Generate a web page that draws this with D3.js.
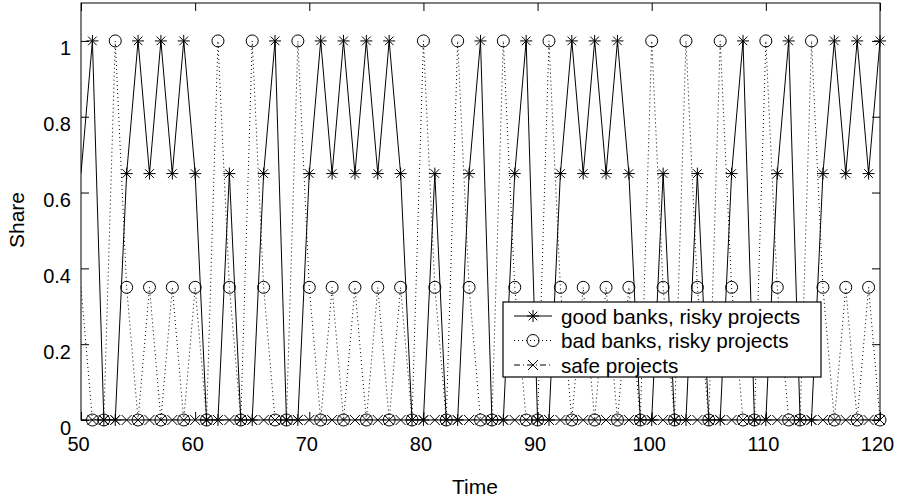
<!DOCTYPE html>
<html>
<head>
<meta charset="utf-8">
<script src="https://cdn.jsdelivr.net/npm/d3@7"></script>
<style>
  body { margin: 0; background: #fff; }
  svg { display: block; font-family: "Liberation Sans", Arial, Helvetica, sans-serif; }
</style>
</head>
<body>
<svg id="chart" width="898" height="503"></svg>
<script>
// ---- data ----
const times = d3.range(50, 121);
const goodRisky = [
  0.65, 1, 0, 0, 0.65, 1, 0.65, 1, 0.65, 1,
  0.65, 0, 0, 0.65, 0, 0, 0.65, 1, 0, 0,
  0.65, 1, 0.65, 1, 0.65, 1, 0.65, 1, 0.65, 0,
  0, 0.65, 0, 0, 0.65, 1, 0, 0, 0.65, 1,
  0, 0, 0.65, 1, 0.65, 1, 0.65, 1, 0.65, 0,
  0, 0.65, 0, 0, 0.65, 0, 0, 0.65, 1, 0,
  0, 0.65, 1, 0, 0, 0.65, 1, 0.65, 1, 0.65, 1
];
const badRisky = [
  0.35, 0, 0, 1, 0.35, 0, 0.35, 0, 0.35, 0,
  0.35, 0, 1, 0.35, 0, 1, 0.35, 0, 0, 1,
  0.35, 0, 0.35, 0, 0.35, 0, 0.35, 0, 0.35, 0,
  1, 0.35, 0, 1, 0.35, 0, 0, 1, 0.35, 0,
  0, 1, 0.35, 0, 0.35, 0, 0.35, 0, 0.35, 0,
  1, 0.35, 0, 1, 0.35, 0, 1, 0.35, 0, 0,
  1, 0.35, 0, 0, 1, 0.35, 0, 0.35, 0, 0.35, 0
];
const safeProj = times.map(() => 0);
const xTicks = [50, 60, 70, 80, 90, 100, 110, 120];
const yTicks = [0, 0.2, 0.4, 0.6, 0.8, 1];
const seriesNames = ["good banks, risky projects", "bad banks, risky projects", "safe projects"];

// ---- layout ----
const L = 81, R = 880, T = 3, B = 420;
const svg = d3.select("#chart");
const x = d3.scaleLinear().domain([50, 120]).range([L, R]);
const y = d3.scaleLinear().domain([0, 1.1]).range([B, T]);

svg.append("defs").append("clipPath").attr("id", "clip")
  .append("rect").attr("x", L).attr("y", T).attr("width", R - L).attr("height", B - T);

const series = [
  { name: seriesNames[0], values: goodRisky, dash: null, marker: "star" },
  { name: seriesNames[1], values: badRisky, dash: "1,3", marker: "circle" },
  { name: seriesNames[2], values: safeProj, dash: "6,3,1,3", marker: "x" }
];

function drawMarker(g, type, cx, cy) {
  const r = 6;
  if (type === "circle") {
    g.append("circle").attr("cx", cx).attr("cy", cy).attr("r", r)
      .attr("fill", "none").attr("stroke", "#000").attr("stroke-width", 1);
  } else if (type === "star") {
    const d = r * 0.72;
    const p = `M${cx - r},${cy}H${cx + r}M${cx},${cy - r}V${cy + r}` +
      `M${cx - d},${cy - d}L${cx + d},${cy + d}M${cx - d},${cy + d}L${cx + d},${cy - d}`;
    g.append("path").attr("d", p).attr("stroke", "#000").attr("stroke-width", 1).attr("fill", "none");
  } else {
    const d = 5;
    const p = `M${cx - d},${cy - d}L${cx + d},${cy + d}M${cx - d},${cy + d}L${cx + d},${cy - d}`;
    g.append("path").attr("d", p).attr("stroke", "#000").attr("stroke-width", 1).attr("fill", "none");
  }
}

// ---- plot ----
const plot = svg.append("g");
const line = d3.line().x((d, i) => x(times[i])).y(d => y(d));
series.forEach(s => {
  plot.append("path")
    .attr("d", line(s.values))
    .attr("clip-path", "url(#clip)")
    .attr("fill", "none")
    .attr("stroke", "#000")
    .attr("stroke-width", 1)
    .attr("stroke-dasharray", s.dash);
  const mg = plot.append("g");
  s.values.forEach((v, i) => {
    if (times[i] > 50) drawMarker(mg, s.marker, x(times[i]), y(v));
  });
});

// ---- axes box & ticks ----
const axG = svg.append("g");
axG.append("rect").attr("x", L).attr("y", T).attr("width", R - L).attr("height", B - T)
  .attr("fill", "none").attr("stroke", "#000").attr("stroke-width", 1);

const tk = 8;
const xAxisB = d3.axisBottom(x).tickValues(xTicks).tickSizeInner(-tk).tickSizeOuter(0).tickPadding(17);
const gxb = svg.append("g").attr("transform", `translate(0,${B})`).call(xAxisB);
gxb.select(".domain").remove();
gxb.selectAll("text").attr("font-size", 20).attr("fill", "#000").attr("font-family", "Liberation Sans, Arial, sans-serif")
  .attr("dx", -3);
const gxt = svg.append("g").attr("transform", `translate(0,${T})`)
  .call(d3.axisTop(x).tickValues(xTicks).tickSizeInner(-tk).tickSizeOuter(0).tickFormat(""));
gxt.select(".domain").remove();

const gyl = svg.append("g").attr("transform", `translate(${L},0)`)
  .call(d3.axisLeft(y).tickValues(yTicks).tickSizeInner(-tk).tickSizeOuter(0).tickPadding(10).tickFormat(d3.format("")));
gyl.select(".domain").remove();
gyl.selectAll("text").attr("font-size", 20).attr("fill", "#000").attr("font-family", "Liberation Sans, Arial, sans-serif")
  .attr("dy", "0.7em");
const gyr = svg.append("g").attr("transform", `translate(${R},0)`)
  .call(d3.axisRight(y).tickValues(yTicks).tickSizeInner(-tk).tickSizeOuter(0).tickFormat(""));
gyr.select(".domain").remove();
svg.selectAll(".tick line").attr("stroke", "#000");

// ---- axis labels ----
svg.append("text").attr("x", 475).attr("y", 494).attr("text-anchor", "middle")
  .attr("font-size", 21).text("Time");
svg.append("text").attr("transform", "translate(24,220) rotate(-90)").attr("text-anchor", "middle")
  .attr("font-size", 21).text("Share");

// ---- legend ----
const lg = svg.append("g");
lg.append("rect").attr("x", 503).attr("y", 302).attr("width", 318).attr("height", 75)
  .attr("fill", "#fff").attr("stroke", "#000").attr("stroke-width", 1.2);
series.forEach((s, i) => {
  const ry = 316 + i * 24.5;
  lg.append("line").attr("x1", 514).attr("x2", 552).attr("y1", ry).attr("y2", ry)
    .attr("stroke", "#000").attr("stroke-width", 1).attr("stroke-dasharray", s.dash);
  drawMarker(lg, s.marker, 533, ry);
  lg.append("text").attr("x", 561).attr("y", ry + 7.5).attr("font-size", 20.7).text(s.name);
});
</script>
</body>
</html>
